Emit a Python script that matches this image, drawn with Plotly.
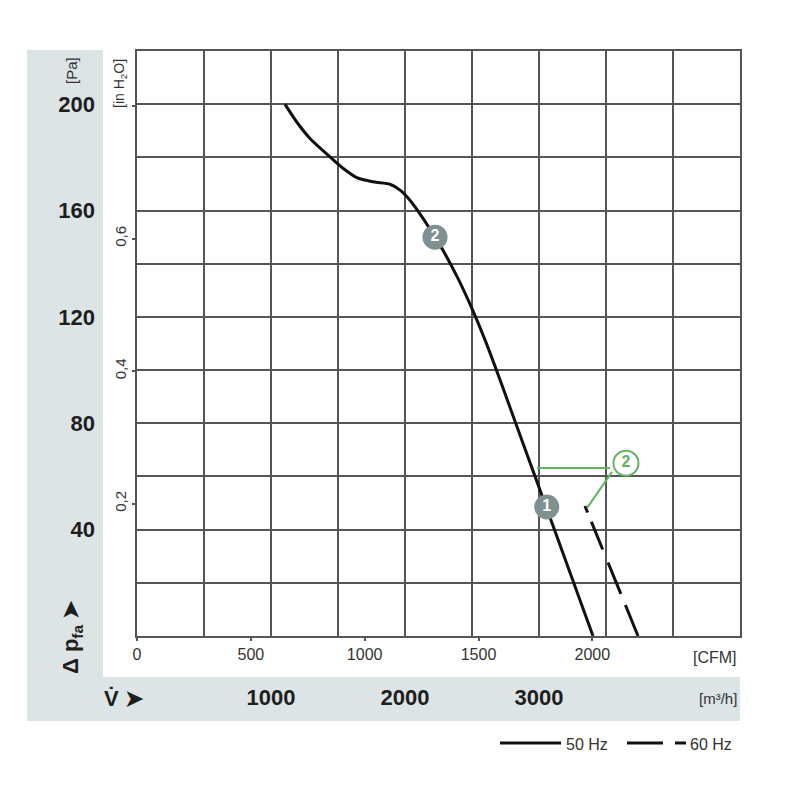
import plotly.graph_objects as go

# ---------------- data ----------------
hz50_flow = [1104, 1192, 1291, 1440, 1540, 1640, 1764, 1888, 1963, 2037, 2137, 2224,
             2300, 2400, 2500, 2600, 2700, 2800, 2900, 3000, 3100, 3200, 3300, 3403]
hz50_pa = [200, 193.3, 187.1, 180.2, 175.8, 172.4, 170.8, 169.9, 167.7, 163.9, 156.9, 150,
           143.6, 134.0, 123.1, 111.0, 97.6, 83.7, 69.8, 55.9, 42.1, 28.2, 14.3, 0]
hz60_flow = [3343, 3540, 3739]
hz60_pa = [48.9, 24.5, 0]

pt_labels = ["1", "2"]
pt_flow = [3058, 2224]
pt_pa = [48.5, 150]

green_label_flow = [3649]
green_label_pa = [65]
green_lead1_flow = [2985, 3530]
green_lead1_pa = [63.2, 63.2]
green_lead2_flow = [3545, 3358]
green_lead2_pa = [61.7, 48.1]

pa_ticks = [40, 80, 120, 160, 200]
inh2o_ticks = [0.2, 0.4, 0.6]
inh2o_text = ["0,2", "0,4", "0,6"]
inh2o_minor = [0.8]
cfm_ticks = [0, 500, 1000, 1500, 2000]
m3h_ticks = [1000, 2000, 3000]

FLOW_MAX = 4500      # m3/h
PA_MAX = 220
PA_PER_INH2O = 249.089
M3H_PER_CFM = 1.699011

# ---------------- layout constants (page px; body has 8px margin) ----------------
OFF = 8
FW, FH = 784, 784
L, R, T, B = 137, 740, 51, 636
def px(x):
    return (x - L) / (R - L)
def py(y):
    return (B - y) / (B - T)

GRID = "#555555"
BAND = "#dde4e6"
GREEN = "#62b462"
MARK = "#7e908f"
FONT = "Liberation Sans, Arial, sans-serif"
DARK = "#1e1e1e"

fig = go.Figure()

fig.add_trace(go.Scatter(x=hz50_flow, y=hz50_pa, mode="lines",
                         line=dict(color="#111111", width=3, shape="spline", smoothing=0.8),
                         showlegend=False, hoverinfo="skip"))
fig.add_trace(go.Scatter(x=hz60_flow, y=hz60_pa, mode="lines",
                         line=dict(color="#111111", width=3,
                                   dash="7px,10px,30px,14px,34px,12px,40px"),
                         showlegend=False, hoverinfo="skip"))
fig.add_trace(go.Scatter(x=green_lead1_flow, y=green_lead1_pa, mode="lines",
                         line=dict(color=GREEN, width=2), showlegend=False, hoverinfo="skip"))
fig.add_trace(go.Scatter(x=green_lead2_flow, y=green_lead2_pa, mode="lines",
                         line=dict(color=GREEN, width=2), showlegend=False, hoverinfo="skip"))
fig.add_trace(go.Scatter(x=pt_flow, y=pt_pa, mode="markers+text", text=pt_labels,
                         textposition="middle center",
                         textfont=dict(color="white", size=16, family=FONT, weight="bold"),
                         marker=dict(size=25, color=MARK, line=dict(width=0)),
                         showlegend=False, hoverinfo="skip"))
fig.add_trace(go.Scatter(x=green_label_flow, y=green_label_pa, mode="markers+text", text=["2"],
                         textposition="middle center",
                         textfont=dict(color=GREEN, size=16, family=FONT, weight="bold"),
                         marker=dict(size=25, color="white", line=dict(width=2, color=GREEN)),
                         showlegend=False, hoverinfo="skip"))

# invisible traces to activate helper axes
for xa, ya in [("x2", "y"), ("x3", "y"), ("x", "y2"), ("x", "y3")]:
    fig.add_trace(go.Scatter(x=[0], y=[0], xaxis=xa, yaxis=ya, mode="markers",
                             marker=dict(opacity=0), showlegend=False, hoverinfo="skip"))

fig.update_layout(
    width=FW, height=FH,
    margin=dict(l=L - OFF, r=FW - (R - OFF), t=T - OFF, b=FH - (B - OFF), pad=0),
    paper_bgcolor="white", plot_bgcolor="white",
    font=dict(family=FONT, color=DARK),
    xaxis=dict(range=[0, FLOW_MAX], dtick=500, tick0=0, showgrid=True, gridcolor=GRID,
               gridwidth=1.6, showticklabels=False, ticks="", showline=True, linecolor=GRID,
               linewidth=1.6, mirror=True, zeroline=False, fixedrange=True),
    yaxis=dict(range=[0, PA_MAX], dtick=20, tick0=0, showgrid=True, gridcolor=GRID,
               gridwidth=1.6, showticklabels=False, ticks="", showline=True, linecolor=GRID,
               linewidth=1.6, mirror=True, zeroline=False, fixedrange=True),
    xaxis2=dict(overlaying="x", side="bottom", anchor="y", range=[0, FLOW_MAX / M3H_PER_CFM],
                tickvals=cfm_ticks, ticks="outside", ticklen=4, tickcolor=GRID, tickwidth=1.5,
                showgrid=False, zeroline=False, showline=False,
                tickfont=dict(size=16, color="#333333")),
    xaxis3=dict(overlaying="x", side="bottom", anchor="y", range=[0, FLOW_MAX],
                tickvals=m3h_ticks, ticks="", showgrid=False, zeroline=False, showline=False,
                ticklabelstandoff=46, tickfont=dict(size=22, color=DARK, weight="bold")),
    yaxis2=dict(overlaying="y", side="left", anchor="x", range=[0, PA_MAX],
                tickvals=pa_ticks, ticks="", showgrid=False, zeroline=False, showline=False,
                ticklabelstandoff=41, tickfont=dict(size=22, color=DARK, weight="bold")),
    yaxis3=dict(overlaying="y", side="left", anchor="x", range=[0, PA_MAX / PA_PER_INH2O],
                tickvals=inh2o_ticks, ticktext=inh2o_text, tickangle=-90,
                ticks="outside", ticklen=4, tickcolor=GRID, tickwidth=1.5,
                minor=dict(tickvals=inh2o_minor, ticks="outside", ticklen=4,
                           tickcolor=GRID, tickwidth=1.5, showgrid=False),
                showgrid=False, zeroline=False, showline=False,
                tickfont=dict(size=15, color="#333333")),
)

# gray bands
fig.add_shape(type="rect", xref="paper", yref="paper", x0=px(27), x1=px(103),
              y0=py(721), y1=py(50), fillcolor=BAND, line=dict(width=0), layer="below")
fig.add_shape(type="rect", xref="paper", yref="paper", x0=px(27), x1=px(740),
              y0=py(721), y1=py(677), fillcolor=BAND, line=dict(width=0), layer="below")

# unit labels
ann = [
    dict(text="[Pa]", x=px(72), y=py(71), textangle=-90, font=dict(size=15, color="#333")),
    dict(text="[in H<sub>2</sub>O]", x=px(120), y=py(84), textangle=-90,
         font=dict(size=14, color="#333")),
    dict(text="Δ p<sub>fa</sub> ➤", x=px(72), y=py(637), textangle=-90,
         font=dict(size=22, color=DARK, weight="bold")),
    dict(text="[CFM]", x=px(739), y=py(657), xanchor="right", font=dict(size=16, color="#333")),
    dict(text="[m³/h]", x=px(739), y=py(698), xanchor="right", font=dict(size=15, color="#333")),
    dict(text="V̇ ➤", x=px(124), y=py(698), font=dict(size=22, color=DARK, weight="bold")),
    dict(text="50 Hz", x=px(564), y=py(744), xanchor="left", font=dict(size=16, color="#333")),
    dict(text="60 Hz", x=px(688), y=py(744), xanchor="left", font=dict(size=16, color="#333")),
]
for a in ann:
    a.update(xref="paper", yref="paper", showarrow=False, yanchor="middle")
    a.setdefault("xanchor", "center")
    fig.add_annotation(**a)

# legend line samples
for x0, x1 in [(500, 561), (627, 663), (675, 686)]:
    fig.add_shape(type="line", xref="paper", yref="paper", x0=px(x0), x1=px(x1),
                  y0=py(743), y1=py(743), line=dict(color="#111", width=3))

fig.write_html("out.html")
